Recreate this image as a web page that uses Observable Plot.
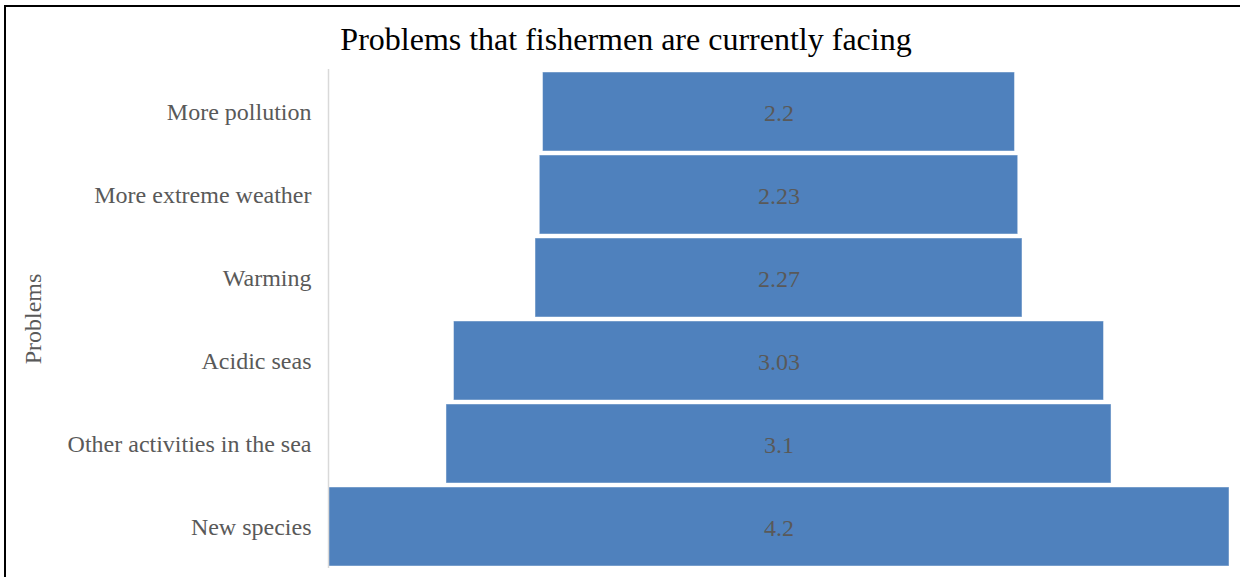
<!DOCTYPE html>
<html><head><meta charset="utf-8">
<script src="https://cdn.jsdelivr.net/npm/d3@7"></script>
<script src="https://cdn.jsdelivr.net/npm/@observablehq/plot@0.6"></script>
<style>
body{margin:0;background:#fff;}
#wrap{position:relative;width:1240px;height:577px;overflow:hidden;font-family:"Liberation Serif",serif;background:#fff;}
#frame{position:absolute;left:4px;top:5px;right:-10px;bottom:-10px;border-top:2px solid #000;border-left:2px solid #000;}
#title{position:absolute;left:0;width:1252px;top:21px;text-align:center;font-size:32px;color:#000;z-index:2;}
#chart{position:absolute;left:0;top:0;z-index:1;}
</style></head>
<body><div id="wrap"><div id="frame"></div><div id="chart"></div><div id="title">Problems that fishermen are currently facing</div></div>
<script>
const categories = ["More pollution","More extreme weather","Warming","Acidic seas","Other activities in the sea","New species"];
const values = [2.2, 2.23, 2.27, 3.03, 3.1, 4.2];
const axisTitle = "Problems";

const data = categories.map((c, i) => ({category: c, value: values[i]}));
const half = d3.max(values) / 2;

const chart = Plot.plot({
  width: 1240,
  height: 577,
  marginLeft: 328,
  marginRight: 11,
  marginTop: 69,
  marginBottom: 9,
  style: {fontFamily: "Liberation Serif", background: "transparent"},
  x: {domain: [-half, half], axis: null},
  y: {domain: categories, paddingInner: 0.05, paddingOuter: 0.025, align: 0.5},
  marks: [
    Plot.barX(data, {
      y: "category",
      x1: d => -d.value / 2,
      x2: d => d.value / 2,
      fill: "#4f81bd",
      stroke: "#ffffff",
      strokeOpacity: 0.45,
      strokeWidth: 1
    }),
    Plot.ruleX([-half], {stroke: "#d9d9d9", strokeWidth: 1.5}),
    Plot.text(data, {
      y: "category",
      x: d => (d.value / 2 - d.value / 2),
      text: d => String(d.value),
      fill: "#595959",
      fontSize: 24,
      dy: 1
    }),
    Plot.axisY({
      tickSize: 0,
      tickPadding: 17,
      fontSize: 24,
      fill: "#595959",
      label: axisTitle,
      labelAnchor: "center",
      labelArrow: "none",
      labelOffset: 305
    })
  ]
});
document.getElementById("chart").appendChild(chart);
</script>
</body></html>
